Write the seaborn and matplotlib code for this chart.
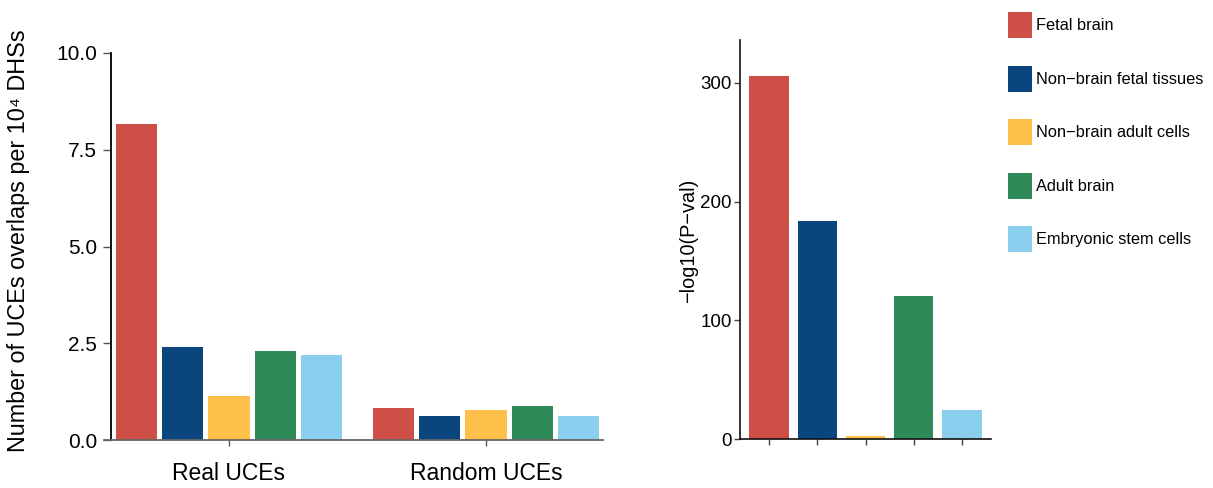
import matplotlib
matplotlib.use("Agg")
import matplotlib.pyplot as plt
from matplotlib.patches import Patch
import seaborn as sns
import pandas as pd

# Tissue categories and their colours
tissues = ["Fetal brain", "Non\u2212brain fetal tissues", "Non\u2212brain adult cells",
           "Adult brain", "Embryonic stem cells"]
colors = ["#CE4F46", "#0B457E", "#FEC04A", "#2E8A58", "#8BCFEF"]

# Overlaps per 10^4 DHSs
groups = ["Real UCEs", "Random UCEs"]
real_uces = [8.17, 2.40, 1.14, 2.30, 2.20]
random_uces = [0.83, 0.62, 0.78, 0.88, 0.62]

# Enrichment significance, -log10(P)
neg_log10_p = [306, 184, 2.5, 120.5, 24.5]

sns.set_style("white")
plt.rcParams["font.family"] = ["Liberation Sans", "DejaVu Sans"]
plt.rcParams["text.color"] = "black"
plt.rcParams["axes.labelcolor"] = "black"

df = pd.DataFrame({
    "group": [groups[0]] * 5 + [groups[1]] * 5,
    "tissue": tissues * 2,
    "value": real_uces + random_uces,
})
palette = dict(zip(tissues, colors))

fig = plt.figure(figsize=(12.13, 4.88), dpi=100)
W, H = 1213, 488

def px_axes(l, t, r, b):
    return fig.add_axes([l / W, 1 - b / H, (r - l) / W, (b - t) / H])

# Left panel: grouped bars
ax1 = px_axes(111, 53, 603, 440)
sns.barplot(data=df, x="group", y="value", hue="tissue", hue_order=tissues,
            palette=palette, width=0.9, gap=0.11, saturation=1, legend=False,
            linewidth=0, ax=ax1)
ax1.set_xlim(-0.459, 1.455)
ax1.set_ylim(0, 10)
ax1.set_yticks([0, 2.5, 5.0, 7.5, 10.0])
ax1.set_yticklabels(["0.0", "2.5", "5.0", "7.5", "10.0"])
ax1.set_xlabel("")
ax1.set_ylabel("Number of UCEs overlaps per 10\u2074 DHSs", fontsize=16.8)
ax1.yaxis.set_label_coords(-(111 - 30) / (603 - 111), 0.514)
ax1.tick_params(axis="y", labelsize=15, length=6, width=1, color="#555555",
                labelcolor="black", pad=4, left=True)
ax1.tick_params(axis="x", labelsize=16.5, length=4, width=1, color="#555555",
                labelcolor="black", pad=12, bottom=True)
for s in ["top", "right"]:
    ax1.spines[s].set_visible(False)
ax1.spines["left"].set_color("black")
ax1.spines["left"].set_linewidth(1.3)
ax1.spines["bottom"].set_color("#666666")
ax1.spines["bottom"].set_linewidth(1.3)
ax1.spines["bottom"].set_bounds(-0.486, 1.455)
ax1.spines["bottom"].set_clip_on(False)

# Right panel: significance per tissue
ax2 = px_axes(740, 40, 991, 439)
sns.barplot(x=tissues, y=neg_log10_p, hue=tissues, palette=palette, width=0.81,
            saturation=1, legend=False, linewidth=0, ax=ax2)
ax2.set_xlim(-0.6, 4.6)
ax2.set_ylim(0, 336)
ax2.set_yticks([0, 100, 200, 300])
ax2.set_xticklabels([])
ax2.set_ylabel("\u2212log10(P\u2212val)", fontsize=14.3)
ax2.yaxis.set_label_coords(-(740 - 698) / (991 - 740), 0.496)
ax2.tick_params(axis="y", labelsize=13.5, length=4, width=1, color="#444444",
                labelcolor="black", pad=2, left=True)
ax2.tick_params(axis="x", length=4, width=1, color="#444444", bottom=True)
for s in ["top", "right"]:
    ax2.spines[s].set_visible(False)
for s in ["left", "bottom"]:
    ax2.spines[s].set_color("#111111")
    ax2.spines[s].set_linewidth(1.2)

# Legend
handles = [Patch(facecolor=c, edgecolor="none", label=t) for t, c in zip(tissues, colors)]
fig.legend(handles=handles, loc="upper left", bbox_to_anchor=(1005 / W, 1 - 9 / H),
           frameon=False, fontsize=11.8, handlelength=1.46, handleheight=2.06,
           handletextpad=0.25, labelspacing=1.68, borderaxespad=0, borderpad=0.2)

fig.savefig("out.png", dpi=100)
